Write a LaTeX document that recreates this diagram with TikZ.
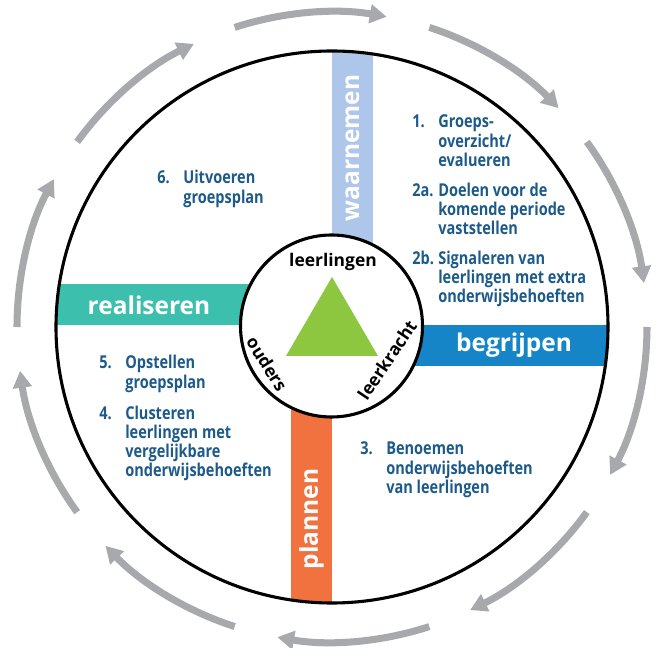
\documentclass[tikz,border=0pt]{standalone}
\usepackage{fontspec}
\setmainfont{Open Sans}
\newfontfamily\listfont{Open Sans}[FakeStretch=0.82]
\usetikzlibrary{arrows.meta}
\definecolor{waarblue}{HTML}{AEC6E9}
\definecolor{begblue}{HTML}{1585C8}
\definecolor{planorange}{HTML}{F1723F}
\definecolor{realteal}{HTML}{3DBFAE}
\definecolor{trigreen}{HTML}{8DC63F}
\definecolor{arrowgray}{HTML}{A7A9AC}
\definecolor{listblue}{HTML}{1C5A8A}

\begin{document}
\begin{tikzpicture}[%
x=0.025cm, y=0.025cm,
band/.style={font=\bfseries\fontsize{17.4}{20}\selectfont, text=white, inner sep=0pt},
hub/.style={font=\bfseries\fontsize{12.4}{14}\selectfont, text=black, inner sep=0pt},
steps/.style={font=\listfont\bfseries\fontsize{12.6}{13.2}\selectfont, text=listblue, inner sep=0pt, anchor=base west},
cyclearrow/.style={draw=arrowgray, line width=5pt, -{Triangle[length=12pt,width=13pt]}},
]
\useasboundingbox (-332,-321) rectangle (324,327);
%% cycle arrows;
\foreach \k in {0,...,9}
  \draw[cyclearrow] ({108-36*\k}:315) arc[start angle={108-36*\k}, end angle={80-36*\k}, radius=315];
%% bands;
\begin{scope}
\clip (0,0) circle (276);
\fill[waarblue] (0,0) rectangle (41,280);
\fill[begblue] (0,2) rectangle (280,-39);
\fill[planorange] (-41,0) rectangle (0,-280);
\fill[realteal] (-280,43) rectangle (0,2);
\end{scope}
%% circles;
\draw[line width=2.2pt] (0,0) circle (276);
\filldraw[fill=white, line width=2.2pt] (-0.5,1) circle (91);
%% triangle;
\fill[trigreen] (0,50) -- (-46,-29) -- (46,-29) -- cycle;
%% band labels;
\node[band, rotate=90] (waarnemen) at (20.5,179) {waarnemen};
\node[band] (realiseren) at (-183,22) {realiseren};
\node[band] (begrijpen) at (182,-18) {begrijpen};
\node[band, rotate=90] (plannen) at (-20.5,-192) {plannen};
%% hub labels;
\node[hub] (leerlingen) at (1,65) {leerlingen};
\node[hub, rotate=-58] (ouders) at (-65,-37) {ouders};
\node[hub, rotate=56] (leerkracht) at (55,-33) {leerkracht};
%% steps;
\node[steps] (stap1) at (80,199) {\begin{tabular}[t]{@{}p{18.5pt}@{}l@{}}
1. & Groeps-\\ & overzicht/\\ & evalueren\\[8pt]
2a. & Doelen voor de\\ & komende periode\\ & vaststellen\\[8pt]
2b. & Signaleren van\\ & leerlingen met extra\\ & onderwijsbehoeften
\end{tabular}};
\node[steps] (stap6) at (-175,143) {\begin{tabular}[t]{@{}p{18.5pt}@{}l@{}}
6. & Uitvoeren\\ & groepsplan
\end{tabular}};
\node[steps] (stap5) at (-233,-42) {\begin{tabular}[t]{@{}p{18.5pt}@{}l@{}}
5. & Opstellen\\ & groepsplan\\[9pt]
4. & Clusteren\\ & leerlingen met\\ & vergelijkbare\\ & onderwijsbehoeften
\end{tabular}};
\node[steps] (stap3) at (28,-128) {\begin{tabular}[t]{@{}p{18.5pt}@{}l@{}}
3. & Benoemen\\ & onderwijsbehoeften\\ & van leerlingen
\end{tabular}};
\end{tikzpicture}
\end{document}
